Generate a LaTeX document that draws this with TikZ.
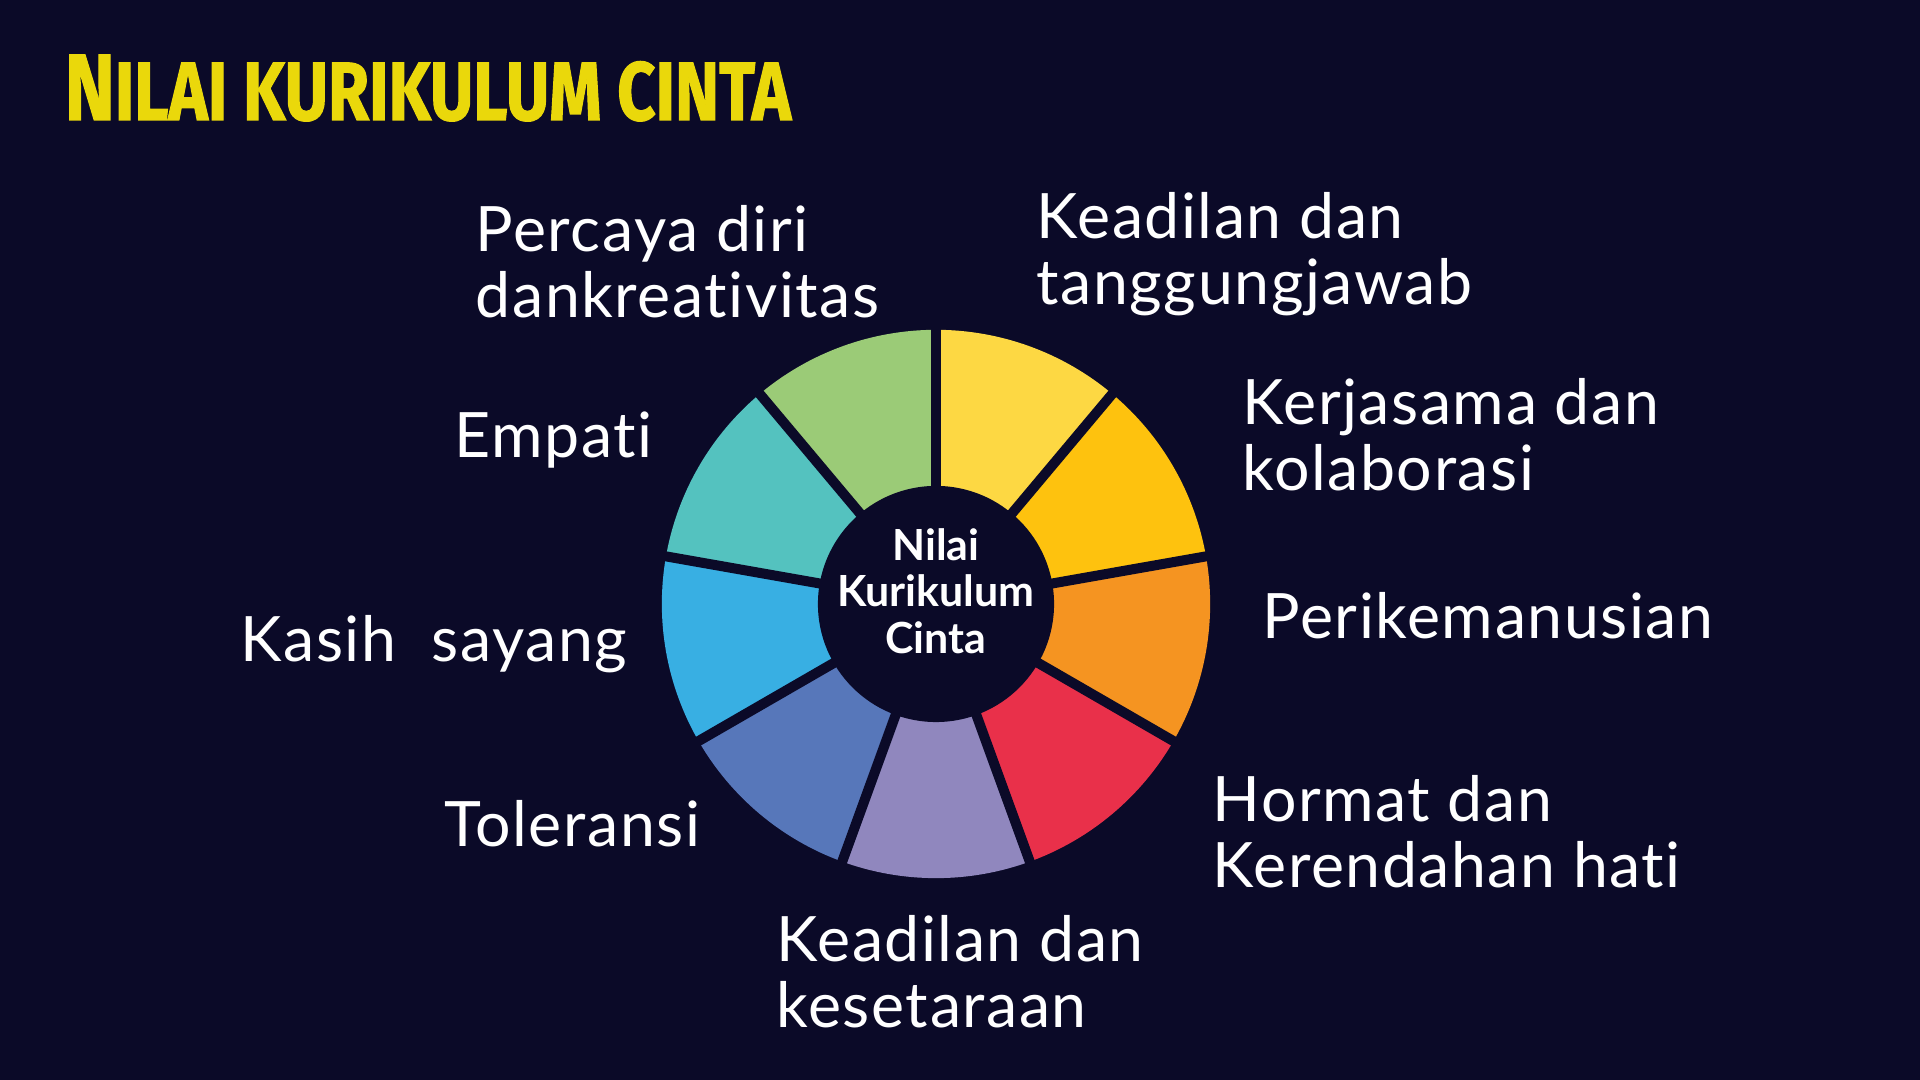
\documentclass[tikz,border=0pt]{standalone}
\usepackage{fontspec}
\usepackage{graphicx}
\setmainfont{Lato}[Ligatures=NoCommon]
\newfontfamily\wheelfont{Lato}[Ligatures=NoCommon, LetterSpace=2.5]
\newfontfamily\titlefont[FakeBold=1.5]{Fira Sans}

\definecolor{bgnavy}{HTML}{0B0A28}
\definecolor{titleyellow}{HTML}{EAD80B}
\definecolor{segyellow}{HTML}{FDD843}
\definecolor{seggold}{HTML}{FEC20E}
\definecolor{segorange}{HTML}{F59421}
\definecolor{segred}{HTML}{E9304A}
\definecolor{seglavender}{HTML}{9087BE}
\definecolor{segslate}{HTML}{5777BA}
\definecolor{segsky}{HTML}{38AFE3}
\definecolor{segteal}{HTML}{54C2BF}
\definecolor{seggreen}{HTML}{9BCB77}

\tikzset{
  titletext/.style={text=titleyellow, inner sep=0pt, anchor=base west},
  hubtext/.style={text=white, inner sep=0pt, align=center,
    font=\bfseries\fontsize{12.2}{13.2}\selectfont},
  wheeltext/.style={text=white, inner sep=0pt, align=left, anchor=base west,
    font=\wheelfont\fontsize{17.8}{18.8}\selectfont},
  gapline/.style={draw=bgnavy, line width=0.1cm}
}

\begin{document}
\begin{tikzpicture}[x=0.01cm,y=0.01cm]
  \fill[bgnavy] (0,0) rectangle (1920,1080);
  \useasboundingbox (0,0) rectangle (1920,1080);
  \node[titletext] (title) at (64,960)
    {\resizebox{7.26cm}{0.65cm}{\titlefont\bfseries\fontsize{30}{30}\selectfont N\fontsize{26.4}{30}\selectfont ILAI KURIKULUM CINTA}};

  \begin{scope}[shift={(936,476)}]
    \foreach \c [count=\i from 0] in {segyellow,seggold,segorange,segred,seglavender,segslate,segsky,segteal,seggreen}
      \fill[\c] (0,0) -- ({90-40*\i}:2.74cm) arc[start angle={90-40*\i}, end angle={50-40*\i}, radius=2.74cm] -- cycle;
    \foreach \a in {90,50,...,-230}
      \draw[gapline] (0,0) -- (\a:2.9cm);
    \fill[bgnavy] (0,0) circle(1.18cm);
  \end{scope}
  \node[hubtext] (hub) at (936,489) {Nilai\\Kurikulum\\Cinta};

  % two-line labels sit on the baseline of their last line
  \node[wheeltext] (percaya) at (475,762) {Percaya diri\\dankreativitas};
  \node[wheeltext] (tanggung) at (1036,775) {Keadilan dan\\tanggungjawab};
  \node[wheeltext] (kerjasama) at (1242,589) {Kerjasama dan\\kolaborasi};
  \node[wheeltext] (empati) at (454,622) {Empati};
  \node[wheeltext] (peri) at (1262,441) {Perikemanusian};
  \node[wheeltext] (kasih) at (240,418) {Kasih\ \ sayang};
  \node[wheeltext] (hormat) at (1212,192) {Hormat dan\\Kerendahan hati};
  \node[wheeltext] (toleransi) at (444,233) {Toleransi};
  \node[wheeltext] (setara) at (776,52) {Keadilan dan\\kesetaraan};
\end{tikzpicture}
\end{document}
